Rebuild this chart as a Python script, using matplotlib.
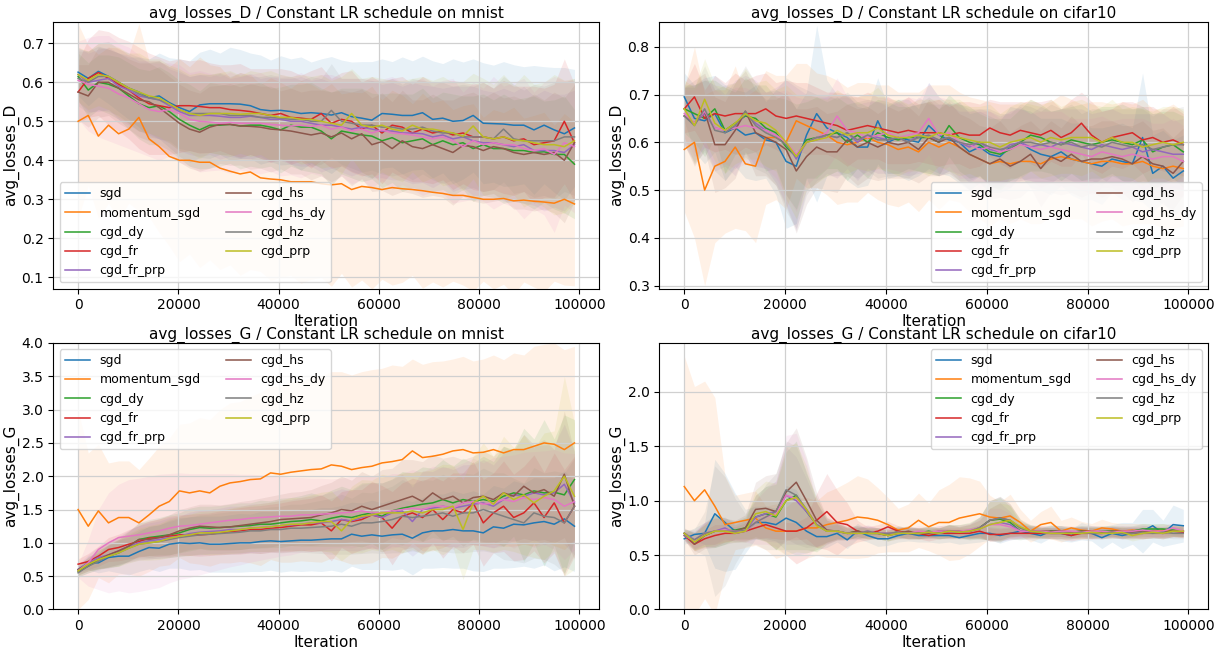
import numpy as np
import matplotlib
matplotlib.use("Agg")
import matplotlib.pyplot as plt

iterations = np.linspace(0, 99000, 50)
methods = ["sgd", "momentum_sgd", "cgd_dy", "cgd_fr", "cgd_fr_prp",
           "cgd_hs", "cgd_hs_dy", "cgd_hz", "cgd_prp"]
colors = ["#1f77b4", "#ff7f0e", "#2ca02c", "#d62728", "#9467bd",
          "#8c564b", "#e377c2", "#7f7f7f", "#bcbd22"]

# ---------------- avg_losses_D on mnist ----------------
D_mnist_sgd = [
0.626,0.610,0.628,0.615,0.600,0.585,0.575,0.560,0.565,0.548,
0.535,0.525,0.542,0.545,0.545,0.545,0.544,0.540,0.530,0.527,
0.528,0.525,0.520,0.522,0.520,0.516,0.522,0.512,0.508,0.503,
0.520,0.518,0.515,0.515,0.522,0.505,0.508,0.500,0.502,0.515,
0.495,0.494,0.493,0.490,0.490,0.478,0.490,0.478,0.468,0.483]
D_mnist_mom = [
0.500,0.515,0.462,0.490,0.468,0.480,0.510,0.455,0.435,0.410,
0.400,0.400,0.395,0.395,0.380,0.372,0.365,0.370,0.355,0.352,
0.350,0.345,0.345,0.345,0.340,0.337,0.340,0.325,0.333,0.330,
0.325,0.330,0.327,0.325,0.322,0.318,0.315,0.310,0.310,0.305,
0.300,0.300,0.302,0.296,0.298,0.295,0.293,0.290,0.300,0.288]
D_mnist_dy = [
0.615,0.580,0.600,0.595,0.585,0.565,0.545,0.535,0.540,0.525,
0.505,0.490,0.478,0.490,0.490,0.492,0.488,0.490,0.490,0.485,
0.478,0.490,0.485,0.485,0.475,0.455,0.475,0.470,0.465,0.462,
0.450,0.458,0.445,0.450,0.455,0.440,0.450,0.440,0.445,0.430,
0.440,0.430,0.430,0.425,0.425,0.420,0.422,0.415,0.415,0.390]
D_mnist_fr = [
0.575,0.610,0.625,0.610,0.595,0.580,0.560,0.545,0.540,0.535,
0.540,0.540,0.538,0.535,0.535,0.530,0.528,0.525,0.520,0.515,
0.520,0.510,0.508,0.505,0.520,0.495,0.505,0.500,0.480,0.490,
0.470,0.490,0.485,0.470,0.480,0.470,0.475,0.465,0.470,0.460,
0.460,0.455,0.460,0.450,0.455,0.440,0.445,0.450,0.500,0.445]
D_mnist_frprp = [
0.620,0.600,0.605,0.610,0.590,0.580,0.565,0.560,0.555,0.540,
0.525,0.515,0.515,0.515,0.513,0.510,0.510,0.513,0.510,0.505,
0.505,0.500,0.500,0.495,0.490,0.490,0.485,0.480,0.485,0.480,
0.475,0.475,0.470,0.470,0.468,0.460,0.465,0.455,0.460,0.450,
0.445,0.445,0.440,0.435,0.440,0.425,0.425,0.425,0.420,0.440]
D_mnist_hs = [
0.575,0.565,0.600,0.600,0.585,0.570,0.555,0.550,0.535,0.515,
0.495,0.480,0.472,0.485,0.492,0.492,0.488,0.487,0.485,0.480,
0.478,0.475,0.470,0.465,0.470,0.460,0.470,0.455,0.468,0.440,
0.448,0.430,0.450,0.435,0.430,0.440,0.430,0.420,0.438,0.435,
0.425,0.435,0.430,0.420,0.415,0.420,0.415,0.420,0.400,0.445]
D_mnist_hsdy = [
0.605,0.595,0.590,0.585,0.570,0.560,0.545,0.530,0.525,0.530,
0.520,0.505,0.500,0.498,0.495,0.497,0.495,0.495,0.495,0.492,
0.490,0.488,0.490,0.487,0.490,0.480,0.485,0.475,0.480,0.470,
0.478,0.470,0.468,0.465,0.460,0.455,0.460,0.450,0.435,0.450,
0.440,0.445,0.440,0.440,0.430,0.425,0.430,0.415,0.445,0.435]
D_mnist_hz = [
0.610,0.600,0.615,0.615,0.600,0.585,0.570,0.560,0.555,0.545,
0.530,0.520,0.520,0.520,0.520,0.515,0.515,0.515,0.510,0.510,
0.508,0.505,0.505,0.500,0.500,0.528,0.500,0.495,0.490,0.490,
0.485,0.485,0.480,0.480,0.485,0.475,0.470,0.470,0.460,0.460,
0.460,0.455,0.480,0.455,0.450,0.450,0.450,0.450,0.460,0.460]
D_mnist_prp = [
0.620,0.605,0.620,0.615,0.600,0.585,0.575,0.565,0.560,0.545,
0.530,0.520,0.515,0.520,0.520,0.520,0.518,0.520,0.520,0.515,
0.510,0.510,0.505,0.505,0.500,0.495,0.490,0.520,0.490,0.485,
0.490,0.480,0.475,0.490,0.480,0.480,0.475,0.470,0.462,0.488,
0.460,0.455,0.460,0.452,0.450,0.445,0.440,0.440,0.435,0.450]

D_mnist_sgd_sd = [
0.060,0.070,0.065,0.070,0.075,0.080,0.090,0.100,0.110,0.115,
0.125,0.130,0.135,0.140,0.130,0.145,0.140,0.135,0.140,0.130,
0.140,0.135,0.145,0.130,0.140,0.150,0.135,0.140,0.145,0.150,
0.140,0.135,0.150,0.140,0.145,0.150,0.140,0.160,0.150,0.145,
0.155,0.150,0.160,0.155,0.150,0.165,0.150,0.160,0.170,0.150]
D_mnist_mom_sd = [
0.250,0.180,0.210,0.200,0.220,0.190,0.240,0.200,0.220,0.230,
0.260,0.240,0.270,0.250,0.260,0.240,0.260,0.250,0.240,0.260,
0.250,0.240,0.260,0.250,0.240,0.260,0.230,0.250,0.240,0.260,
0.230,0.250,0.240,0.220,0.250,0.230,0.240,0.220,0.230,0.240,
0.210,0.230,0.220,0.240,0.210,0.220,0.230,0.200,0.220,0.210]
D_mnist_dy_sd = [
0.060,0.070,0.070,0.075,0.080,0.085,0.090,0.095,0.100,0.100,
0.100,0.105,0.100,0.110,0.105,0.100,0.110,0.105,0.110,0.100,
0.110,0.105,0.110,0.115,0.110,0.120,0.110,0.115,0.120,0.110,
0.120,0.115,0.125,0.120,0.130,0.120,0.125,0.130,0.120,0.135,
0.130,0.125,0.140,0.130,0.135,0.145,0.130,0.140,0.150,0.140]
D_mnist_fr_sd = [
0.080,0.100,0.110,0.120,0.120,0.125,0.130,0.130,0.125,0.120,
0.120,0.115,0.120,0.115,0.110,0.115,0.120,0.110,0.115,0.120,
0.115,0.120,0.110,0.125,0.120,0.115,0.120,0.130,0.120,0.125,
0.130,0.120,0.130,0.125,0.135,0.130,0.125,0.140,0.130,0.135,
0.140,0.130,0.145,0.140,0.135,0.150,0.140,0.145,0.160,0.150]
D_mnist_frprp_sd = [
0.070,0.075,0.080,0.080,0.085,0.090,0.090,0.095,0.100,0.095,
0.100,0.100,0.105,0.100,0.110,0.100,0.105,0.110,0.100,0.110,
0.105,0.110,0.115,0.110,0.120,0.110,0.115,0.120,0.115,0.125,
0.120,0.125,0.120,0.130,0.125,0.130,0.120,0.135,0.130,0.140,
0.135,0.130,0.145,0.140,0.150,0.140,0.155,0.145,0.150,0.140]
D_mnist_hs_sd = [
0.070,0.080,0.090,0.085,0.090,0.090,0.095,0.100,0.100,0.100,
0.100,0.100,0.100,0.105,0.100,0.105,0.100,0.110,0.105,0.110,
0.100,0.110,0.105,0.115,0.110,0.115,0.110,0.120,0.115,0.120,
0.125,0.120,0.130,0.120,0.125,0.130,0.125,0.135,0.130,0.140,
0.135,0.140,0.130,0.145,0.140,0.150,0.140,0.155,0.160,0.150]
D_mnist_hsdy_sd = [
0.100,0.120,0.130,0.135,0.130,0.130,0.125,0.120,0.125,0.120,
0.125,0.120,0.130,0.125,0.120,0.130,0.120,0.125,0.130,0.120,
0.130,0.125,0.135,0.120,0.130,0.140,0.125,0.135,0.130,0.140,
0.130,0.145,0.130,0.140,0.150,0.135,0.145,0.160,0.140,0.150,
0.145,0.170,0.150,0.160,0.180,0.150,0.170,0.200,0.160,0.170]
D_mnist_hz_sd = [
0.070,0.080,0.085,0.090,0.085,0.090,0.095,0.090,0.100,0.095,
0.100,0.095,0.100,0.100,0.105,0.100,0.110,0.100,0.105,0.110,
0.105,0.110,0.100,0.115,0.110,0.120,0.110,0.115,0.120,0.115,
0.120,0.125,0.115,0.130,0.120,0.125,0.130,0.120,0.135,0.130,
0.140,0.130,0.135,0.140,0.130,0.145,0.140,0.150,0.140,0.150]
D_mnist_prp_sd = [
0.070,0.075,0.080,0.085,0.090,0.090,0.100,0.095,0.100,0.100,
0.105,0.100,0.110,0.100,0.105,0.110,0.100,0.110,0.105,0.115,
0.110,0.105,0.115,0.110,0.120,0.110,0.125,0.115,0.120,0.130,
0.120,0.125,0.130,0.120,0.135,0.125,0.140,0.130,0.140,0.135,
0.150,0.140,0.160,0.140,0.170,0.150,0.160,0.180,0.170,0.160]

# ---------------- avg_losses_D on cifar10 ----------------
D_cifar_sgd = [
0.695,0.650,0.645,0.660,0.620,0.630,0.615,0.620,0.605,0.600,
0.560,0.550,0.615,0.660,0.630,0.620,0.610,0.590,0.590,0.645,
0.600,0.610,0.605,0.600,0.635,0.615,0.605,0.600,0.580,0.590,
0.575,0.570,0.590,0.600,0.585,0.575,0.570,0.580,0.565,0.560,
0.555,0.550,0.565,0.560,0.555,0.610,0.535,0.550,0.525,0.540]
D_cifar_mom = [
0.585,0.600,0.500,0.550,0.560,0.590,0.555,0.550,0.610,0.610,
0.600,0.645,0.635,0.625,0.615,0.600,0.595,0.600,0.610,0.600,
0.595,0.585,0.590,0.580,0.600,0.590,0.600,0.590,0.575,0.565,
0.555,0.560,0.555,0.560,0.560,0.555,0.565,0.570,0.565,0.560,
0.555,0.560,0.560,0.555,0.555,0.560,0.550,0.545,0.550,0.545]
D_cifar_dy = [
0.670,0.660,0.650,0.670,0.625,0.640,0.655,0.650,0.630,0.620,
0.590,0.570,0.605,0.610,0.615,0.620,0.600,0.615,0.600,0.620,
0.610,0.605,0.610,0.610,0.610,0.600,0.635,0.610,0.600,0.595,
0.580,0.575,0.585,0.600,0.615,0.610,0.600,0.595,0.605,0.600,
0.595,0.600,0.605,0.600,0.595,0.605,0.580,0.590,0.595,0.580]
D_cifar_fr = [
0.670,0.695,0.650,0.660,0.655,0.660,0.660,0.660,0.670,0.655,
0.650,0.655,0.650,0.645,0.640,0.635,0.625,0.630,0.635,0.630,
0.625,0.620,0.625,0.620,0.620,0.620,0.615,0.620,0.615,0.615,
0.630,0.620,0.615,0.625,0.620,0.615,0.625,0.610,0.620,0.640,
0.615,0.600,0.610,0.615,0.620,0.605,0.610,0.600,0.605,0.595]
D_cifar_frprp = [
0.655,0.640,0.660,0.630,0.625,0.630,0.660,0.640,0.625,0.615,
0.600,0.565,0.600,0.605,0.615,0.610,0.620,0.600,0.615,0.610,
0.605,0.610,0.600,0.615,0.610,0.605,0.610,0.600,0.590,0.600,
0.585,0.580,0.595,0.600,0.590,0.595,0.590,0.600,0.595,0.590,
0.585,0.595,0.590,0.585,0.590,0.580,0.585,0.580,0.575,0.575]
D_cifar_hs = [
0.655,0.640,0.665,0.595,0.595,0.625,0.665,0.620,0.610,0.600,
0.585,0.540,0.570,0.590,0.580,0.580,0.605,0.590,0.600,0.590,
0.600,0.595,0.600,0.585,0.610,0.600,0.610,0.590,0.575,0.565,
0.555,0.565,0.550,0.560,0.575,0.545,0.570,0.560,0.575,0.560,
0.565,0.565,0.570,0.565,0.555,0.570,0.555,0.550,0.535,0.560]
D_cifar_hsdy = [
0.660,0.640,0.665,0.630,0.625,0.630,0.635,0.630,0.625,0.615,
0.600,0.575,0.600,0.610,0.620,0.655,0.625,0.620,0.610,0.615,
0.620,0.610,0.615,0.620,0.650,0.615,0.620,0.600,0.595,0.585,
0.590,0.580,0.585,0.595,0.590,0.585,0.590,0.585,0.580,0.575,
0.570,0.580,0.575,0.570,0.575,0.570,0.565,0.570,0.570,0.560]
D_cifar_hz = [
0.655,0.635,0.670,0.625,0.620,0.635,0.665,0.635,0.620,0.610,
0.595,0.570,0.600,0.610,0.615,0.610,0.620,0.605,0.615,0.605,
0.605,0.610,0.600,0.610,0.615,0.605,0.610,0.600,0.595,0.600,
0.590,0.585,0.590,0.600,0.600,0.595,0.600,0.595,0.600,0.590,
0.595,0.590,0.600,0.595,0.590,0.595,0.585,0.590,0.595,0.595]
D_cifar_prp = [
0.670,0.635,0.690,0.640,0.625,0.640,0.660,0.645,0.640,0.625,
0.600,0.570,0.600,0.605,0.610,0.625,0.615,0.620,0.620,0.630,
0.615,0.610,0.610,0.615,0.610,0.620,0.615,0.610,0.605,0.600,
0.600,0.590,0.600,0.605,0.610,0.600,0.610,0.605,0.610,0.610,
0.610,0.600,0.610,0.600,0.600,0.590,0.595,0.600,0.595,0.600]

D_cifar_sgd_sd = [
0.050,0.070,0.090,0.080,0.100,0.080,0.090,0.100,0.080,0.110,
0.140,0.120,0.090,0.185,0.100,0.080,0.090,0.085,0.080,0.090,
0.075,0.080,0.085,0.070,0.090,0.080,0.075,0.085,0.080,0.075,
0.080,0.075,0.085,0.070,0.080,0.075,0.080,0.070,0.075,0.080,
0.075,0.080,0.070,0.080,0.075,0.135,0.080,0.075,0.080,0.075]
D_cifar_mom_sd = [
0.130,0.200,0.200,0.160,0.150,0.170,0.140,0.160,0.140,0.130,
0.140,0.120,0.130,0.120,0.125,0.130,0.120,0.125,0.115,0.120,
0.125,0.120,0.115,0.125,0.120,0.130,0.120,0.115,0.120,0.125,
0.130,0.120,0.125,0.120,0.130,0.125,0.120,0.130,0.125,0.120,
0.130,0.125,0.120,0.130,0.125,0.130,0.120,0.125,0.130,0.120]
D_cifar_dy_sd = [
0.050,0.060,0.080,0.060,0.090,0.065,0.080,0.070,0.090,0.075,
0.100,0.110,0.080,0.085,0.070,0.075,0.080,0.070,0.075,0.070,
0.075,0.070,0.065,0.070,0.075,0.070,0.065,0.070,0.075,0.065,
0.070,0.075,0.065,0.070,0.075,0.070,0.065,0.075,0.070,0.080,
0.070,0.075,0.070,0.080,0.075,0.070,0.080,0.075,0.070,0.075]
D_cifar_fr_sd = [
0.050,0.070,0.060,0.080,0.070,0.085,0.070,0.080,0.075,0.070,
0.080,0.070,0.075,0.070,0.065,0.070,0.075,0.065,0.070,0.065,
0.070,0.065,0.070,0.060,0.065,0.070,0.060,0.065,0.070,0.065,
0.060,0.065,0.070,0.060,0.065,0.070,0.065,0.060,0.070,0.065,
0.070,0.065,0.060,0.070,0.065,0.070,0.065,0.060,0.070,0.065]
D_cifar_frprp_sd = [
0.060,0.080,0.070,0.090,0.075,0.100,0.080,0.090,0.080,0.100,
0.130,0.150,0.100,0.090,0.080,0.085,0.075,0.080,0.070,0.075,
0.070,0.075,0.070,0.080,0.070,0.075,0.070,0.065,0.075,0.070,
0.080,0.075,0.070,0.075,0.070,0.080,0.075,0.070,0.075,0.080,
0.075,0.070,0.080,0.075,0.070,0.080,0.075,0.080,0.070,0.075]
D_cifar_hs_sd = [
0.060,0.090,0.080,0.100,0.090,0.100,0.085,0.090,0.080,0.090,
0.120,0.130,0.100,0.085,0.080,0.085,0.075,0.080,0.075,0.070,
0.075,0.070,0.075,0.070,0.080,0.070,0.075,0.070,0.075,0.070,
0.075,0.080,0.070,0.075,0.070,0.080,0.075,0.070,0.080,0.075,
0.070,0.080,0.075,0.070,0.080,0.075,0.070,0.080,0.075,0.070]
D_cifar_hsdy_sd = [
0.050,0.070,0.075,0.080,0.070,0.085,0.080,0.075,0.080,0.090,
0.110,0.120,0.090,0.080,0.075,0.080,0.070,0.075,0.080,0.070,
0.075,0.070,0.080,0.070,0.075,0.080,0.070,0.075,0.070,0.080,
0.075,0.070,0.080,0.075,0.070,0.080,0.075,0.080,0.070,0.075,
0.080,0.075,0.070,0.080,0.075,0.080,0.075,0.070,0.080,0.075]
D_cifar_hz_sd = [
0.060,0.080,0.090,0.085,0.100,0.090,0.095,0.090,0.085,0.100,
0.140,0.150,0.110,0.090,0.085,0.080,0.085,0.080,0.075,0.080,
0.075,0.080,0.075,0.070,0.080,0.075,0.070,0.080,0.075,0.070,
0.080,0.075,0.070,0.080,0.075,0.070,0.080,0.075,0.080,0.070,
0.075,0.080,0.070,0.075,0.080,0.075,0.070,0.080,0.075,0.080]
D_cifar_prp_sd = [
0.060,0.080,0.085,0.080,0.090,0.085,0.095,0.080,0.090,0.085,
0.120,0.130,0.100,0.090,0.080,0.085,0.080,0.075,0.080,0.085,
0.075,0.080,0.070,0.075,0.080,0.070,0.075,0.080,0.070,0.075,
0.080,0.070,0.075,0.080,0.070,0.075,0.080,0.070,0.075,0.080,
0.070,0.075,0.080,0.070,0.075,0.080,0.070,0.075,0.080,0.070]

# ---------------- avg_losses_G on mnist ----------------
G_mnist_sgd = [
0.600,0.700,0.700,0.780,0.800,0.800,0.870,0.930,0.920,0.980,
1.000,0.990,1.000,0.980,0.980,0.990,1.000,1.000,1.020,1.030,
1.020,1.030,1.040,1.040,1.050,1.060,1.060,1.130,1.100,1.120,
1.100,1.120,1.130,1.070,1.150,1.180,1.180,1.200,1.180,1.180,
1.150,1.240,1.220,1.280,1.270,1.300,1.320,1.280,1.360,1.250]
G_mnist_mom = [
1.500,1.250,1.480,1.300,1.380,1.380,1.300,1.420,1.550,1.620,
1.780,1.750,1.780,1.750,1.850,1.900,1.920,1.950,1.960,2.050,
2.030,2.060,2.080,2.100,2.110,2.170,2.150,2.100,2.130,2.150,
2.200,2.220,2.250,2.380,2.280,2.300,2.330,2.380,2.400,2.350,
2.360,2.400,2.350,2.400,2.400,2.450,2.500,2.480,2.400,2.500]
G_mnist_dy = [
0.570,0.650,0.750,0.800,0.850,0.950,1.050,1.080,1.100,1.120,
1.150,1.200,1.230,1.220,1.230,1.240,1.250,1.260,1.280,1.280,
1.300,1.320,1.330,1.350,1.330,1.370,1.400,1.380,1.420,1.450,
1.400,1.480,1.520,1.550,1.580,1.600,1.650,1.600,1.650,1.620,
1.650,1.620,1.700,1.750,1.720,1.780,1.750,1.760,1.720,1.950]
G_mnist_fr = [
0.680,0.720,0.800,0.900,0.930,0.980,1.020,1.070,1.080,1.100,
1.120,1.120,1.120,1.130,1.150,1.170,1.180,1.200,1.200,1.220,
1.230,1.250,1.270,1.270,1.300,1.180,1.350,1.320,1.350,1.420,
1.380,1.220,1.400,1.450,1.380,1.500,1.350,1.500,1.450,1.600,
1.300,1.450,1.550,1.380,1.450,1.600,1.380,1.600,1.300,1.550]
G_mnist_frprp = [
0.600,0.700,0.780,0.820,0.880,0.950,1.000,1.030,1.050,1.080,
1.100,1.140,1.160,1.170,1.180,1.200,1.200,1.220,1.230,1.240,
1.260,1.270,1.280,1.300,1.300,1.320,1.350,1.330,1.380,1.420,
1.380,1.450,1.480,1.320,1.500,1.520,1.550,1.520,1.550,1.580,
1.600,1.550,1.650,1.720,1.700,1.750,1.720,1.750,1.880,1.600]
G_mnist_hs = [
0.600,0.680,0.750,0.820,0.880,0.950,1.050,1.050,1.080,1.120,
1.180,1.220,1.250,1.240,1.230,1.240,1.260,1.280,1.300,1.320,
1.350,1.360,1.370,1.380,1.420,1.450,1.500,1.480,1.550,1.500,
1.550,1.600,1.650,1.700,1.620,1.750,1.650,1.700,1.600,1.680,
1.700,1.650,1.750,1.700,1.850,1.750,1.800,1.700,2.030,1.550]
G_mnist_hsdy = [
0.580,0.700,0.900,1.000,1.080,1.100,1.120,1.150,1.180,1.220,
1.250,1.260,1.280,1.300,1.320,1.340,1.350,1.370,1.380,1.390,
1.400,1.400,1.420,1.420,1.430,1.440,1.450,1.460,1.480,1.450,
1.450,1.480,1.500,1.520,1.500,1.550,1.550,1.520,1.600,1.620,
1.580,1.600,1.650,1.620,1.680,1.650,1.680,1.650,1.550,1.620]
G_mnist_hz = [
0.550,0.650,0.720,0.800,0.850,0.920,0.980,1.000,1.020,1.050,
1.080,1.100,1.120,1.130,1.140,1.150,1.160,1.180,1.180,1.200,
1.200,1.220,1.220,1.230,1.240,1.250,1.280,1.250,1.300,1.300,
1.320,1.350,1.400,1.380,1.400,1.420,1.450,1.400,1.450,1.450,
1.500,1.450,1.400,1.350,1.300,1.450,1.400,1.380,1.300,1.550]
G_mnist_prp = [
0.580,0.680,0.750,0.800,0.850,0.920,0.980,1.000,1.020,1.070,
1.100,1.120,1.150,1.150,1.160,1.180,1.200,1.220,1.230,1.240,
1.260,1.280,1.280,1.300,1.320,1.320,1.180,1.350,1.400,1.420,
1.450,1.450,1.450,1.480,1.450,1.500,1.500,1.550,1.200,1.600,
1.700,1.580,1.750,1.650,1.720,1.600,1.700,1.780,2.000,1.700]

G_mnist_sgd_sd = [
0.050,0.100,0.150,0.200,0.250,0.280,0.300,0.320,0.350,0.360,
0.380,0.400,0.400,0.420,0.420,0.430,0.440,0.430,0.450,0.440,
0.460,0.450,0.470,0.460,0.480,0.470,0.500,0.480,0.500,0.520,
0.500,0.530,0.520,0.550,0.530,0.560,0.550,0.580,0.560,0.600,
0.580,0.620,0.600,0.650,0.620,0.680,0.650,0.700,0.720,0.680]
G_mnist_mom_sd = [
1.500,1.100,1.000,0.900,0.850,0.850,0.800,0.850,0.900,0.950,
1.000,1.050,1.100,1.100,1.150,1.200,1.200,1.250,1.300,1.300,
1.320,1.350,1.350,1.380,1.400,1.400,1.420,1.420,1.440,1.450,
1.420,1.450,1.400,1.380,1.400,1.420,1.400,1.380,1.400,1.380,
1.400,1.420,1.400,1.450,1.420,1.500,1.480,1.520,1.500,1.450]
G_mnist_dy_sd = [
0.080,0.100,0.140,0.170,0.200,0.220,0.250,0.270,0.280,0.300,
0.300,0.320,0.320,0.330,0.330,0.340,0.350,0.340,0.360,0.350,
0.370,0.360,0.380,0.400,0.380,0.420,0.450,0.420,0.480,0.460,
0.500,0.480,0.550,0.500,0.560,0.520,0.600,0.550,0.620,0.580,
0.650,0.600,0.750,0.650,1.000,0.780,1.100,0.800,1.200,0.900]
G_mnist_fr_sd = [
0.080,0.120,0.150,0.180,0.200,0.220,0.240,0.260,0.280,0.300,
0.300,0.310,0.320,0.320,0.330,0.340,0.350,0.350,0.360,0.360,
0.370,0.380,0.380,0.400,0.420,0.450,0.420,0.480,0.450,0.500,
0.480,0.550,0.500,0.520,0.550,0.500,0.580,0.550,0.600,0.620,
0.650,0.600,0.680,0.650,0.700,0.720,0.680,0.750,0.800,0.750]
G_mnist_frprp_sd = [
0.080,0.120,0.160,0.200,0.220,0.240,0.260,0.270,0.280,0.300,
0.300,0.320,0.330,0.330,0.340,0.350,0.350,0.360,0.360,0.370,
0.380,0.380,0.400,0.400,0.420,0.440,0.460,0.450,0.500,0.480,
0.520,0.500,0.550,0.520,0.580,0.550,0.600,0.580,0.620,0.600,
0.650,0.620,0.700,0.680,0.720,0.700,0.750,0.720,0.900,0.780]
G_mnist_hs_sd = [
0.080,0.100,0.140,0.180,0.200,0.230,0.250,0.270,0.280,0.300,
0.320,0.320,0.330,0.340,0.340,0.350,0.360,0.360,0.370,0.380,
0.380,0.400,0.400,0.420,0.440,0.460,0.500,0.460,0.520,0.500,
0.550,0.520,0.600,0.550,0.600,0.580,0.620,0.600,0.650,0.620,
0.680,0.650,0.700,0.680,0.780,0.720,0.750,0.700,0.950,0.800]
G_mnist_hsdy_sd = [
0.100,0.350,0.600,0.750,0.800,0.850,0.850,0.850,0.850,0.820,
0.800,0.780,0.760,0.740,0.720,0.700,0.680,0.660,0.640,0.620,
0.600,0.580,0.560,0.550,0.540,0.520,0.520,0.540,0.520,0.550,
0.530,0.560,0.540,0.580,0.560,0.600,0.580,0.620,0.600,0.650,
0.620,0.680,0.650,0.700,0.680,0.720,0.700,0.750,0.800,0.720]
G_mnist_hz_sd = [
0.060,0.100,0.130,0.160,0.180,0.200,0.220,0.240,0.250,0.270,
0.280,0.290,0.300,0.300,0.310,0.320,0.320,0.330,0.340,0.340,
0.350,0.360,0.360,0.380,0.400,0.420,0.450,0.420,0.460,0.450,
0.480,0.500,0.550,0.500,0.550,0.520,0.580,0.550,0.600,0.580,
0.620,0.600,0.650,0.620,0.600,0.680,0.650,0.700,0.750,0.720]
G_mnist_prp_sd = [
0.070,0.100,0.140,0.170,0.200,0.220,0.240,0.260,0.270,0.290,
0.300,0.310,0.320,0.330,0.330,0.340,0.350,0.350,0.360,0.370,
0.380,0.400,0.400,0.420,0.440,0.460,0.450,0.500,0.550,0.520,
0.580,0.550,0.600,0.580,0.620,0.600,0.680,0.620,0.750,0.700,
0.800,0.720,0.850,0.780,0.900,0.820,0.950,0.900,1.500,1.100]

# ---------------- avg_losses_G on cifar10 ----------------
G_cifar_sgd = [
0.650,0.690,0.700,0.880,0.800,0.720,0.720,0.800,0.800,0.780,
0.840,0.800,0.720,0.670,0.670,0.700,0.640,0.720,0.680,0.650,
0.650,0.680,0.700,0.680,0.680,0.680,0.680,0.660,0.680,0.700,
0.700,0.680,0.700,0.720,0.700,0.680,0.720,0.700,0.680,0.720,
0.700,0.660,0.700,0.680,0.700,0.720,0.770,0.700,0.780,0.770]
G_cifar_mom = [
1.130,1.000,1.100,0.950,0.780,0.800,0.820,0.840,0.750,0.720,
0.720,0.720,0.750,0.750,0.780,0.800,0.820,0.850,0.840,0.820,
0.780,0.730,0.750,0.820,0.760,0.800,0.800,0.840,0.860,0.880,
0.850,0.840,0.860,0.800,0.720,0.780,0.800,0.720,0.750,0.730,
0.720,0.750,0.740,0.720,0.730,0.720,0.720,0.730,0.720,0.720]
G_cifar_dy = [
0.700,0.630,0.680,0.720,0.720,0.730,0.750,0.850,0.880,0.850,
1.000,1.050,0.900,0.780,0.720,0.720,0.700,0.720,0.700,0.700,
0.680,0.720,0.700,0.700,0.720,0.700,0.720,0.720,0.720,0.750,
0.820,0.830,0.800,0.720,0.720,0.700,0.720,0.720,0.710,0.720,
0.710,0.720,0.720,0.710,0.720,0.740,0.740,0.740,0.730,0.720]
G_cifar_fr = [
0.680,0.600,0.650,0.680,0.700,0.700,0.720,0.750,0.780,0.750,
0.720,0.720,0.750,0.820,0.900,0.800,0.780,0.720,0.700,0.720,
0.760,0.720,0.700,0.700,0.680,0.700,0.700,0.700,0.700,0.720,
0.690,0.690,0.700,0.700,0.700,0.700,0.700,0.700,0.680,0.700,
0.700,0.700,0.710,0.700,0.700,0.700,0.710,0.700,0.720,0.710]
G_cifar_frprp = [
0.700,0.640,0.700,0.720,0.750,0.700,0.720,0.850,0.880,0.900,
1.050,1.000,0.900,0.780,0.720,0.720,0.700,0.700,0.720,0.700,
0.700,0.700,0.700,0.700,0.710,0.700,0.720,0.710,0.720,0.740,
0.780,0.800,0.780,0.720,0.720,0.710,0.700,0.700,0.700,0.710,
0.700,0.700,0.710,0.700,0.710,0.700,0.710,0.700,0.720,0.720]
G_cifar_hs = [
0.700,0.600,0.680,0.720,0.720,0.720,0.750,0.920,0.930,0.900,
1.080,1.170,1.000,0.820,0.730,0.720,0.700,0.720,0.700,0.700,
0.680,0.700,0.720,0.700,0.700,0.720,0.720,0.720,0.720,0.750,
0.820,0.840,0.820,0.750,0.720,0.720,0.720,0.720,0.710,0.720,
0.720,0.710,0.720,0.720,0.710,0.720,0.720,0.710,0.720,0.720]
G_cifar_hsdy = [
0.680,0.630,0.700,0.720,0.730,0.720,0.720,0.800,0.850,0.880,
1.050,1.020,0.920,0.780,0.720,0.720,0.700,0.700,0.720,0.700,
0.700,0.710,0.700,0.720,0.710,0.720,0.720,0.720,0.730,0.750,
0.780,0.780,0.760,0.720,0.720,0.720,0.710,0.720,0.720,0.710,
0.720,0.720,0.710,0.720,0.720,0.730,0.720,0.720,0.750,0.720]
G_cifar_hz = [
0.680,0.640,0.700,0.720,0.720,0.720,0.730,0.800,0.850,0.900,
1.100,1.050,0.920,0.780,0.720,0.720,0.700,0.700,0.720,0.700,
0.700,0.710,0.700,0.700,0.710,0.700,0.720,0.710,0.720,0.750,
0.820,0.840,0.820,0.750,0.720,0.710,0.700,0.700,0.700,0.710,
0.700,0.700,0.710,0.700,0.700,0.710,0.700,0.710,0.700,0.700]
G_cifar_prp = [
0.700,0.620,0.680,0.720,0.720,0.700,0.720,0.880,0.900,0.860,
1.000,1.030,0.920,0.770,0.720,0.720,0.700,0.700,0.700,0.700,
0.680,0.700,0.700,0.700,0.710,0.700,0.720,0.710,0.720,0.740,
0.780,0.800,0.820,0.760,0.720,0.710,0.700,0.700,0.700,0.700,
0.710,0.700,0.700,0.710,0.680,0.700,0.710,0.700,0.720,0.720]

G_cifar_sgd_sd = [
0.050,0.060,0.100,0.500,0.450,0.350,0.200,0.150,0.150,0.150,
0.300,0.300,0.200,0.120,0.100,0.080,0.080,0.070,0.060,0.070,
0.060,0.060,0.070,0.060,0.060,0.070,0.060,0.060,0.070,0.080,
0.060,0.070,0.060,0.070,0.060,0.070,0.060,0.070,0.060,0.080,
0.070,0.100,0.080,0.120,0.100,0.200,0.150,0.120,0.180,0.150]
G_cifar_mom_sd = [
1.200,1.050,1.000,1.000,0.450,0.250,0.250,0.250,0.200,0.250,
0.220,0.300,0.280,0.250,0.300,0.320,0.350,0.380,0.360,0.300,
0.250,0.200,0.220,0.250,0.220,0.300,0.350,0.380,0.350,0.300,
0.200,0.150,0.200,0.120,0.100,0.120,0.150,0.100,0.100,0.080,
0.070,0.080,0.060,0.070,0.060,0.070,0.060,0.060,0.050,0.060]
G_cifar_dy_sd = [
0.040,0.080,0.100,0.150,0.120,0.080,0.100,0.200,0.250,0.300,
0.450,0.500,0.350,0.250,0.120,0.080,0.060,0.050,0.050,0.050,
0.050,0.050,0.050,0.050,0.050,0.050,0.060,0.060,0.080,0.100,
0.180,0.200,0.150,0.080,0.060,0.050,0.050,0.050,0.050,0.050,
0.050,0.050,0.050,0.050,0.050,0.050,0.050,0.050,0.050,0.050]
G_cifar_fr_sd = [
0.040,0.060,0.080,0.100,0.080,0.060,0.080,0.100,0.120,0.100,
0.080,0.080,0.100,0.250,0.350,0.300,0.200,0.100,0.060,0.060,
0.050,0.050,0.050,0.050,0.050,0.050,0.050,0.050,0.050,0.050,
0.060,0.050,0.050,0.050,0.050,0.050,0.050,0.050,0.050,0.050,
0.050,0.050,0.050,0.050,0.050,0.050,0.050,0.050,0.050,0.050]
G_cifar_frprp_sd = [
0.040,0.080,0.100,0.120,0.100,0.080,0.100,0.200,0.250,0.280,
0.450,0.400,0.300,0.200,0.100,0.070,0.050,0.050,0.050,0.050,
0.050,0.050,0.050,0.050,0.050,0.050,0.060,0.050,0.060,0.080,
0.150,0.180,0.120,0.060,0.050,0.050,0.050,0.050,0.050,0.050,
0.050,0.050,0.050,0.050,0.050,0.050,0.050,0.050,0.050,0.050]
G_cifar_hs_sd = [
0.050,0.100,0.120,0.150,0.120,0.100,0.120,0.250,0.300,0.350,
0.450,0.500,0.400,0.250,0.120,0.080,0.060,0.050,0.050,0.050,
0.050,0.050,0.050,0.050,0.050,0.050,0.060,0.060,0.070,0.100,
0.180,0.200,0.150,0.080,0.060,0.050,0.050,0.050,0.050,0.050,
0.050,0.050,0.050,0.050,0.050,0.050,0.050,0.050,0.050,0.050]
G_cifar_hsdy_sd = [
0.040,0.080,0.100,0.120,0.100,0.080,0.100,0.200,0.250,0.300,
0.550,0.600,0.450,0.200,0.120,0.080,0.060,0.060,0.060,0.050,
0.050,0.050,0.050,0.050,0.050,0.050,0.050,0.050,0.060,0.080,
0.150,0.150,0.120,0.060,0.050,0.050,0.050,0.050,0.050,0.050,
0.050,0.050,0.050,0.050,0.050,0.050,0.050,0.050,0.050,0.050]
G_cifar_hz_sd = [
0.050,0.100,0.200,0.600,0.500,0.300,0.150,0.200,0.300,0.350,
0.450,0.450,0.350,0.200,0.100,0.070,0.050,0.050,0.050,0.050,
0.050,0.050,0.050,0.050,0.050,0.050,0.060,0.050,0.060,0.100,
0.180,0.200,0.150,0.070,0.050,0.050,0.050,0.050,0.050,0.050,
0.050,0.050,0.050,0.050,0.050,0.050,0.050,0.050,0.050,0.050]
G_cifar_prp_sd = [
0.040,0.080,0.100,0.120,0.100,0.080,0.100,0.220,0.280,0.300,
0.500,0.500,0.400,0.220,0.100,0.070,0.050,0.050,0.050,0.050,
0.050,0.050,0.050,0.050,0.050,0.050,0.060,0.050,0.060,0.080,
0.150,0.180,0.140,0.070,0.050,0.050,0.050,0.050,0.050,0.050,
0.050,0.050,0.050,0.050,0.050,0.050,0.050,0.050,0.050,0.050]

panels = [
    dict(title="avg_losses_D / Constant LR schedule on mnist", ylabel="avg_losses_D",
         means=[D_mnist_sgd, D_mnist_mom, D_mnist_dy, D_mnist_fr, D_mnist_frprp,
                D_mnist_hs, D_mnist_hsdy, D_mnist_hz, D_mnist_prp],
         stds=[D_mnist_sgd_sd, D_mnist_mom_sd, D_mnist_dy_sd, D_mnist_fr_sd, D_mnist_frprp_sd,
               D_mnist_hs_sd, D_mnist_hsdy_sd, D_mnist_hz_sd, D_mnist_prp_sd],
         ylim=(0.0708, 0.7546), loc="lower left",
         pos=[0.0434, 0.5552, 0.4446, 0.4109]),
    dict(title="avg_losses_D / Constant LR schedule on cifar10", ylabel="avg_losses_D",
         means=[D_cifar_sgd, D_cifar_mom, D_cifar_dy, D_cifar_fr, D_cifar_frprp,
                D_cifar_hs, D_cifar_hsdy, D_cifar_hz, D_cifar_prp],
         stds=[D_cifar_sgd_sd, D_cifar_mom_sd, D_cifar_dy_sd, D_cifar_fr_sd, D_cifar_frprp_sd,
               D_cifar_hs_sd, D_cifar_hsdy_sd, D_cifar_hz_sd, D_cifar_prp_sd],
         ylim=(0.2937, 0.8517), loc="lower right",
         pos=[0.5369, 0.5552, 0.4470, 0.4109]),
    dict(title="avg_losses_G / Constant LR schedule on mnist", ylabel="avg_losses_G",
         means=[G_mnist_sgd, G_mnist_mom, G_mnist_dy, G_mnist_fr, G_mnist_frprp,
                G_mnist_hs, G_mnist_hsdy, G_mnist_hz, G_mnist_prp],
         stds=[G_mnist_sgd_sd, G_mnist_mom_sd, G_mnist_dy_sd, G_mnist_fr_sd, G_mnist_frprp_sd,
               G_mnist_hs_sd, G_mnist_hsdy_sd, G_mnist_hz_sd, G_mnist_prp_sd],
         ylim=(0.0, 4.0), loc="upper left",
         pos=[0.0434, 0.0609, 0.4446, 0.4106]),
    dict(title="avg_losses_G / Constant LR schedule on cifar10", ylabel="avg_losses_G",
         means=[G_cifar_sgd, G_cifar_mom, G_cifar_dy, G_cifar_fr, G_cifar_frprp,
                G_cifar_hs, G_cifar_hsdy, G_cifar_hz, G_cifar_prp],
         stds=[G_cifar_sgd_sd, G_cifar_mom_sd, G_cifar_dy_sd, G_cifar_fr_sd, G_cifar_frprp_sd,
               G_cifar_hs_sd, G_cifar_hsdy_sd, G_cifar_hz_sd, G_cifar_prp_sd],
         ylim=(0.0, 2.45), loc="upper right",
         pos=[0.5369, 0.0609, 0.4470, 0.4106]),
]

fig = plt.figure(figsize=(12.28, 6.49), dpi=100)
for p in panels:
    ax = fig.add_axes(p["pos"])
    for name, col, m, s in zip(methods, colors, p["means"], p["stds"]):
        m = np.asarray(m)
        s = np.asarray(s)
        ax.fill_between(iterations, m - s, m + s, color=col, alpha=0.1, linewidth=0)
        ax.plot(iterations, m, color=col, lw=1.1, label=name)
    ax.set_xlim(-4950, 103950)
    ax.set_ylim(*p["ylim"])
    ax.grid(True, color="#d0d0d0", lw=0.9)
    ax.set_title(p["title"], fontsize=11, pad=3)
    ax.set_xlabel("Iteration", fontsize=11, labelpad=1)
    ax.set_ylabel(p["ylabel"], fontsize=11, labelpad=2)
    ax.tick_params(labelsize=10)
    ax.legend(loc=p["loc"], ncol=2, fontsize=9, framealpha=0.8)

fig.savefig("out.png", dpi=100)
